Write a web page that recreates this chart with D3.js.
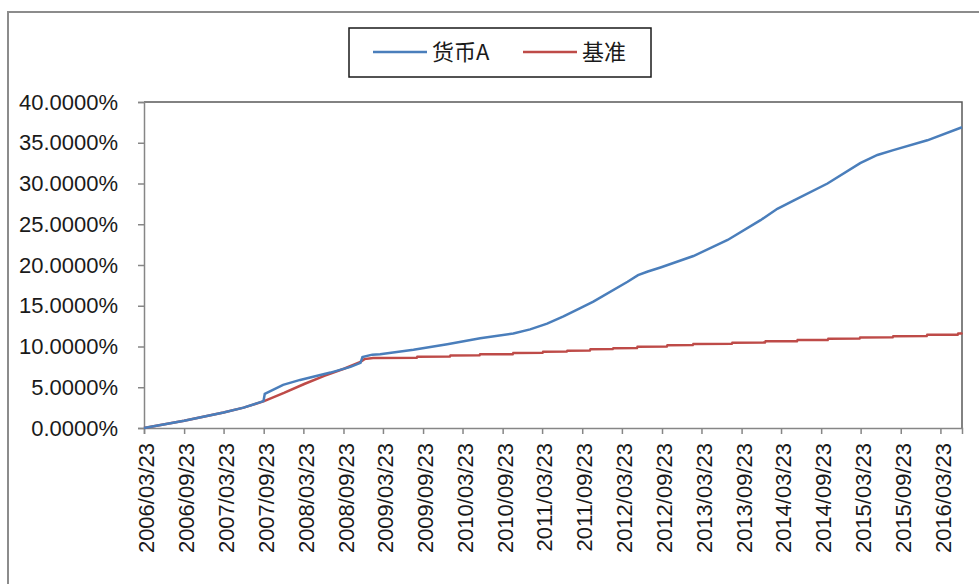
<!DOCTYPE html>
<html>
<head>
<meta charset="utf-8">
<script src="https://cdnjs.cloudflare.com/ajax/libs/d3/7.8.5/d3.min.js"></script>
<style>
  body { margin: 0; background: #fff; }
  svg { display: block; }
</style>
</head>
<body>
<div id="visualization"></div>
<script>

// series names for the legend
const seriesNames = ["货币A", "基准"];

// fund cumulative return (货币A), in %
const fundDates = ["2006-03-23", "2006-09-23", "2007-03-23", "2007-06-23", "2007-09-22", "2007-09-28",
  "2007-12-21", "2008-03-08", "2008-07-25", "2008-10-25", "2008-12-10", "2008-12-19", "2009-02-02",
  "2009-03-10", "2009-08-10", "2010-01-12", "2010-06-12", "2010-11-11", "2011-01-27", "2011-04-15",
  "2011-06-29", "2011-09-14", "2011-11-13", "2012-04-18", "2012-06-05", "2012-07-20", "2012-09-16",
  "2013-02-14", "2013-07-21", "2013-12-19", "2014-03-06", "2014-05-19", "2014-10-22", "2015-03-21",
  "2015-06-08", "2015-08-20", "2016-01-23", "2016-06-30"];
const fundValues = [0, 0.9, 1.9, 2.5, 3.3, 4.2,
  5.3, 5.9, 6.8, 7.5, 8.0, 8.7, 9.0,
  9.05, 9.6, 10.27, 11.0, 11.6, 12.1, 12.8,
  13.7, 14.7, 15.5, 17.95, 18.75, 19.2, 19.7,
  21.1, 23.07, 25.5, 26.9, 27.9, 30.0, 32.5,
  33.5, 34.1, 35.3, 36.9];

// benchmark cumulative return (基准), in % - flat then small steps after 2009
const benchDates = ["2006-03-23", "2006-09-23", "2007-03-23", "2007-06-23", "2007-09-25", "2007-12-25",
  "2008-03-27", "2008-06-27", "2008-09-28", "2008-12-10", "2008-12-28", "2009-02-06",
  "2009-08-25", "2009-08-28", "2010-01-24", "2010-01-27", "2010-06-09", "2010-06-12",
  "2010-11-08", "2010-11-11", "2011-03-25", "2011-03-28", "2011-07-14", "2011-07-17",
  "2011-10-28", "2011-10-31", "2012-02-10", "2012-02-13", "2012-05-31", "2012-06-03",
  "2012-10-15", "2012-10-18", "2013-02-11", "2013-02-14", "2013-08-09", "2013-08-12",
  "2014-01-08", "2014-01-11", "2014-06-04", "2014-06-07", "2014-10-23", "2014-10-26",
  "2015-03-18", "2015-03-21", "2015-08-17", "2015-08-20", "2016-01-20", "2016-01-23",
  "2016-06-10", "2016-06-13", "2016-06-27", "2016-06-30"];
const benchValues = [0, 0.9, 1.9, 2.5, 3.3, 4.3,
  5.4, 6.4, 7.3, 8.1, 8.45, 8.6,
  8.62, 8.75, 8.77, 8.9, 8.92, 9.04,
  9.06, 9.2, 9.22, 9.36, 9.38, 9.48,
  9.5, 9.66, 9.68, 9.78, 9.8, 9.98,
  10.0, 10.15, 10.17, 10.31, 10.33, 10.47,
  10.49, 10.63, 10.65, 10.79, 10.81, 10.95,
  10.97, 11.11, 11.13, 11.27, 11.29, 11.43,
  11.45, 11.59, 11.6, 11.72];

// x axis tick labels, every half year
const xTickLabels = ["2006/03/23", "2006/09/23", "2007/03/23", "2007/09/23", "2008/03/23", "2008/09/23",
  "2009/03/23", "2009/09/23", "2010/03/23", "2010/09/23", "2011/03/23", "2011/09/23",
  "2012/03/23", "2012/09/23", "2013/03/23", "2013/09/23", "2014/03/23", "2014/09/23",
  "2015/03/23", "2015/09/23", "2016/03/23"];

// y axis ticks, in %
const yTicks = [0, 5, 10, 15, 20, 25, 30, 35, 40];

const xStart = "2006-03-23";
const xEnd = "2016-06-30";

const colors = ["#4A7EBB", "#BE4B48"];

var dimensions = {
  width: 979,
  height: 584,
  plot: { left: 144, top: 102, right: 962, bottom: 428 }
}

const parseDate = d3.timeParse("%Y-%m-%d");
const parseLabel = d3.timeParse("%Y/%m/%d");

// build the point arrays from the value lists
const fund = fundDates.map((d, i) => ({ date: parseDate(d), value: fundValues[i] }));
const bench = benchDates.map((d, i) => ({ date: parseDate(d), value: benchValues[i] }));

const svg = d3.select("#visualization")
  .append("svg")
  .attr("width", dimensions.width)
  .attr("height", dimensions.height)

// outer chart border (runs off the right and bottom of the picture)
svg.append("rect")
  .attr("x", 8).attr("y", 12)
  .attr("width", 1000).attr("height", 600)
  .attr("fill", "none")
  .attr("stroke", "#8c8c8c")
  .attr("stroke-width", 2)

const x = d3.scaleTime()
  .domain([parseDate(xStart), parseDate(xEnd)])
  .range([dimensions.plot.left, dimensions.plot.right])

const y = d3.scaleLinear()
  .domain([0, 40])
  .range([dimensions.plot.bottom, dimensions.plot.top])

// plot area border on top and right
svg.append("path")
  .attr("d", `M${dimensions.plot.left},${dimensions.plot.top}H${dimensions.plot.right}V${dimensions.plot.bottom}`)
  .attr("fill", "none")
  .attr("stroke", "#595959")
  .attr("stroke-width", 1.5)

// y axis
const yAxis = svg.append("g")
  .attr("transform", `translate(${dimensions.plot.left},0)`)
  .call(d3.axisLeft(y).tickValues(yTicks).tickSize(6).tickPadding(20)
    .tickFormat(d => d3.format(".4f")(d) + "%"))

yAxis.selectAll("text")
  .style("font-family", '"Liberation Sans", Arial, sans-serif')
  .style("font-size", "22px")
  .attr("fill", "#1a1a1a")

// x axis
const xAxis = svg.append("g")
  .attr("transform", `translate(0,${dimensions.plot.bottom})`)
  .call(d3.axisBottom(x).tickValues(xTickLabels.map(parseLabel)).tickSize(6)
    .tickFormat(d3.timeFormat("%Y/%m/%d")))

xAxis.selectAll("text")
  .style("font-family", '"Liberation Sans", Arial, sans-serif')
  .style("font-size", "22px")
  .attr("fill", "#1a1a1a")
  .attr("text-anchor", "end")
  .attr("transform", "rotate(-90)")
  .attr("x", -15)
  .attr("y", 2)
  .attr("dy", "0.35em")

svg.selectAll(".domain, .tick line")
  .attr("stroke", "#868686")
  .attr("stroke-width", 1.5)

// draw the two lines
const line = d3.line()
  .x(d => x(d.date))
  .y(d => y(d.value))

svg.append("path")
  .datum(bench)
  .attr("d", line)
  .attr("fill", "none")
  .attr("stroke", colors[1])
  .attr("stroke-width", 2.5)

svg.append("path")
  .datum(fund)
  .attr("d", line)
  .attr("fill", "none")
  .attr("stroke", colors[0])
  .attr("stroke-width", 2.5)

// legend box
const legend = svg.append("g")

legend.append("rect")
  .attr("x", 349).attr("y", 28)
  .attr("width", 302).attr("height", 49)
  .attr("fill", "#fff")
  .attr("stroke", "#1a1a1a")
  .attr("stroke-width", 1.5)

const legendX = [373, 523];
seriesNames.forEach(function(name, i) {
  legend.append("line")
    .attr("x1", legendX[i]).attr("x2", legendX[i] + 54)
    .attr("y1", 52).attr("y2", 52)
    .attr("stroke", colors[i])
    .attr("stroke-width", 2.5)

  legend.append("text")
    .attr("x", legendX[i] + 59)
    .attr("y", 52)
    .attr("dy", "0.36em")
    .style("font-family", '"Noto Sans CJK SC", "Liberation Sans", sans-serif')
    .style("font-size", "22px")
    .attr("fill", "#1a1a1a")
    .text(name)
})

</script>
</body>
</html>
